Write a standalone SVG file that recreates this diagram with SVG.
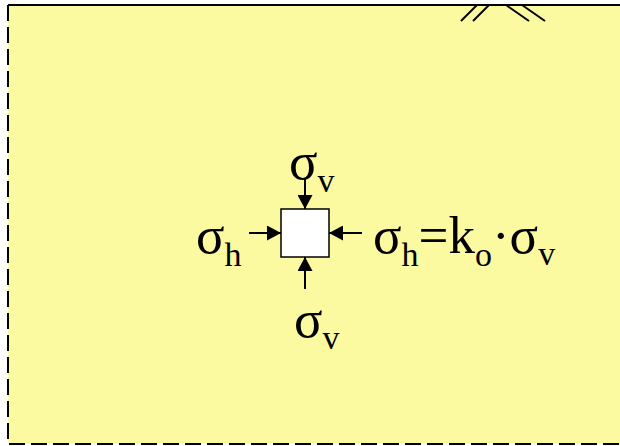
<svg xmlns="http://www.w3.org/2000/svg" width="620" height="446" viewBox="0 0 620 446">
<style>
.t{font-family:"Liberation Serif","Times New Roman",serif;font-size:53px;fill:#000}
.s{font-size:34px}
.ln{stroke:#000;stroke-width:2;fill:none}
</style>
<defs>
<marker id="ah" markerWidth="14" markerHeight="15" refX="14" refY="7.5" orient="auto" markerUnits="userSpaceOnUse">
<path d="M0,0 L14,7.5 L0,15 Z" fill="#000"/>
</marker>
</defs>
<rect x="0" y="0" width="620" height="446" fill="#fff"/>
<g id="ground">
<rect x="8" y="5" width="620" height="439" fill="#FBFAA1"/>
<path class="ln" d="M8,5 L8,444 L628,444" stroke-dasharray="16 6"/>
<line class="ln" x1="8" y1="5" x2="620" y2="5"/>
<line class="ln" x1="461" y1="21" x2="477" y2="5"/>
<line class="ln" x1="473" y1="21" x2="489" y2="5"/>
<line class="ln" x1="506" y1="5" x2="529" y2="21"/>
<line class="ln" x1="522" y1="5" x2="545" y2="21"/>
</g>
<g id="element">
<rect x="281" y="209" width="48" height="48" fill="#fff" stroke="#000" stroke-width="1.5"/>
</g>
<g id="connectors">
<line class="ln" x1="305" y1="178" x2="305" y2="209" marker-end="url(#ah)"/>
<line class="ln" x1="305" y1="289" x2="305" y2="257" marker-end="url(#ah)"/>
<line class="ln" x1="249" y1="233" x2="281" y2="233" marker-end="url(#ah)"/>
<line class="ln" x1="362" y1="233" x2="329" y2="233" marker-end="url(#ah)"/>
</g>
<g id="labels">
<text class="t" x="289" y="179">σ<tspan class="s" dy="13">v</tspan></text>
<text class="t" x="196" y="253">σ<tspan class="s" dy="13">h</tspan></text>
<text class="t" x="294" y="337">σ<tspan class="s" dy="12">v</tspan></text>
<text class="t" x="373" y="253">σ<tspan class="s" dy="13">h</tspan><tspan dy="-13">=k</tspan><tspan class="s" dy="13">o</tspan><tspan dy="-13">·σ</tspan><tspan class="s" dy="12">v</tspan></text>
</g>
</svg>
